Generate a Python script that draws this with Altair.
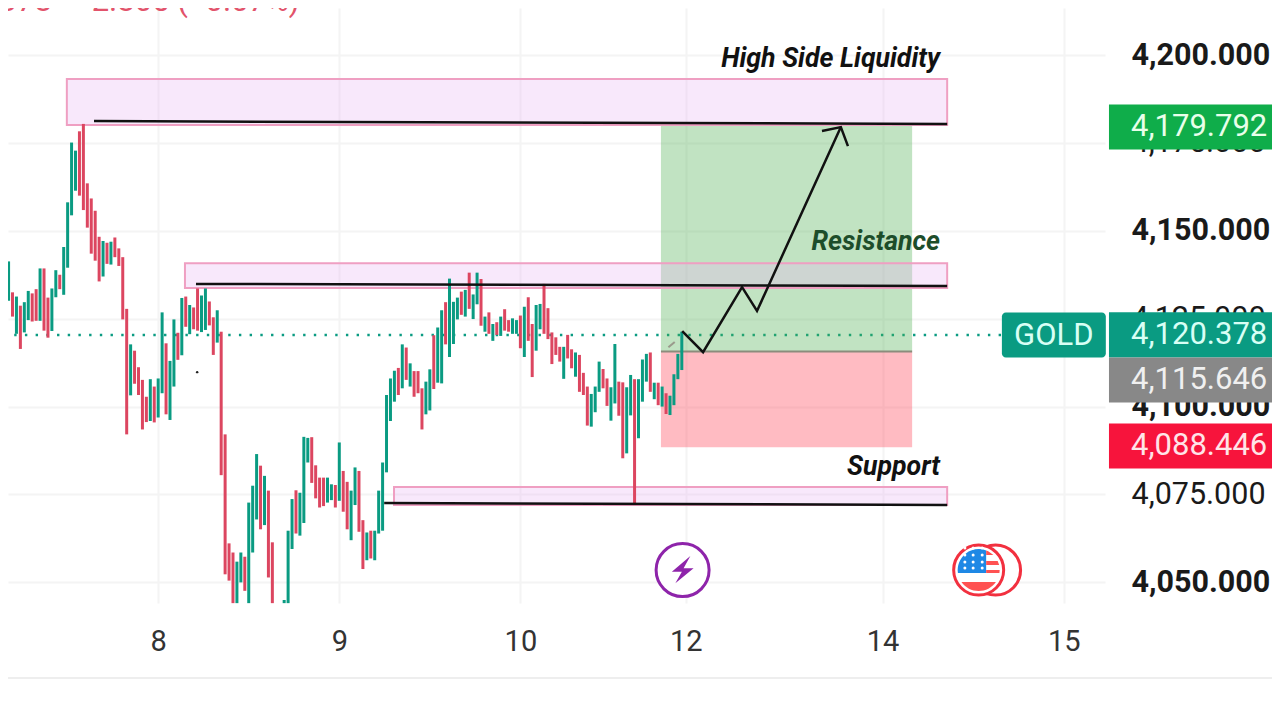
import altair as alt
import pandas as pd

FONT = "Roboto"
RED, TEAL = "#dc4660", "#0a9b82"

candle_top = [4140.1,4135.1,4141.3,4132.5,4131.3,4128.7,4129.7,4132.9,4132.2,4133.4,
4139.3,4139.3,4131.0,4133.6,4138.8,4137.5,4145.4,4158.1,4175.1,4172.8,
4178.3,4180.4,4163.5,4159.2,4155.7,4148.3,4147.1,4146.6,4146.9,4148.1,
4145.0,4142.5,4127.8,4117.7,4115.9,4111.2,4107.6,4102.8,4107.8,4105.7,
4108.0,4126.8,4118.0,4113.0,4124.8,4121.0,4130.9,4131.3,4128.9,4128.2,
4133.6,4131.6,4133.6,4129.9,4125.4,4127.4,4121.3,4092.1,4061.1,4058.5,
4055.9,4058.5,4057.3,4072.7,4077.5,4086.5,4083.2,4080.3,4076.1,4061.4,
None,None,4045.0,4064.7,4073.7,4076.2,4075.5,4091.4,4091.1,4091.3,
4083.3,4079.8,4079.8,4079.8,4077.9,4077.7,4089.8,4081.7,4078.6,4076.1,
4082.7,4081.7,4067.7,4064.2,4064.7,4064.7,4076.1,4084.1,4103.3,4108.0,
4110.2,4111.0,4117.7,4116.8,4112.3,4110.1,4110.1,4105.2,4107.1,4110.6,
4120.3,4122.5,4127.4,4129.7,4136.4,4129.8,4131.0,4132.7,4133.2,4138.1,
4131.9,4138.1,4136.3,4125.6,4126.8,4123.5,4124.0,4125.6,4127.7,4124.6,
4125.1,4124.6,4125.9,4128.4,4131.1,4123.5,4128.9,4129.2,4134.9,4128.0,
4121.1,4119.7,4117.0,4117.0,4120.4,4116.3,4115.4,4114.7,4109.6,4105.7,
4103.6,4105.7,4112.8,4110.7,4108.0,4105.5,4117.8,4107.1,4106.9,4105.5,
4109.0,4107.8,4107.8,4113.4,4115.0,4115.4,4106.8,4106.8,4105.7,4103.8,
4103.1,4109.2,4115.0,4121.3]
candle_bottom = [4128.9,4124.0,4130.1,4125.6,4120.7,4116.4,4121.1,4124.6,4124.2,4124.4,
4124.4,4121.6,4119.6,4121.5,4131.1,4133.4,4131.8,4139.5,4154.4,4161.4,
4160.0,4155.9,4150.9,4143.5,4141.5,4135.6,4137.0,4140.6,4140.4,4142.5,
4140.0,4124.8,4092.1,4103.2,4106.5,4103.3,4093.5,4095.6,4095.9,4095.5,
4096.9,4103.8,4097.8,4096.2,4105.7,4113.3,4114.6,4122.7,4120.6,4122.0,
4121.6,4121.2,4121.8,4123.1,4114.7,4118.2,4080.5,4052.3,4050.5,4044.1,
4044.1,4050.0,4047.6,4044.1,4058.5,4067.9,4065.1,4066.3,4051.4,4044.1,
None,None,4044.1,4044.1,4059.5,4063.9,4063.3,4066.9,4084.1,4078.3,
4073.9,4071.3,4071.7,4072.7,4073.4,4071.3,4073.2,4070.1,4065.1,4062.0,
4072.0,4064.4,4053.8,4056.3,4056.8,4056.3,4063.9,4064.7,4081.3,4095.9,
4101.4,4103.3,4105.2,4107.6,4105.7,4102.8,4103.8,4093.5,4097.8,4098.9,
4105.0,4106.8,4106.6,4117.7,4114.1,4117.8,4124.8,4126.1,4125.6,4127.8,
4124.9,4129.1,4123.0,4121.3,4120.7,4118.7,4120.4,4120.1,4121.6,4121.3,
4120.7,4120.7,4116.6,4114.1,4118.7,4108.4,4115.9,4122.0,4120.7,4119.2,
4112.1,4114.7,4112.8,4107.9,4113.7,4110.9,4108.5,4104.2,4103.3,4094.6,
4094.3,4098.4,4104.2,4105.2,4100.2,4096.0,4100.9,4097.4,4085.3,4086.7,
4097.5,4072.0,4091.0,4101.4,4107.1,4104.2,4102.1,4100.4,4100.0,4097.9,
4097.6,4100.4,4107.8,4110.4]
candle_dir = list(
    "rrtrtrttrr" "trrttrtttt" "rrrrrrtrtr" "rrrtrrrrtr" "ttrttrtrtr" "rttrrtrrrr"
    "ttrtttrtrr" "tttttrtttr" "rrrttrtrrt" "trrtrttttt" "trtrtrrrtt" "rttrtttrtr"
    "ttrtrtrtrr" "ttrtrrttrr" "rrrtrrtrrr" "tttrrttrrt" "trtttrtrtr" "tttt")

x_ticks = [40, 86, 132, 174, 224, 270]
x_tick_labels = ["8", "9", "10", "12", "14", "15"]
y_ticks = [4050, 4075, 4100, 4125, 4150, 4175, 4200]

price_now = 4120.378
take_profit = 4179.792
entry = 4115.646
stop_loss = 4088.446

zone_x = [16.8, 46.8, 99.9]
zone_x2 = [240.4, 240.4, 240.4]
zone_low = [4180.1, 4133.7, 4072.0]
zone_high = [4193.2, 4140.8, 4077.1]

# black level lines and hand-drawn arrow (id, bar position, price)
line_id = ["a","a","b","b","c","c","d","d","d","d","d","e","e","e"]
line_x = [23.7,240.4,49.6,240.4,97.4,240.4,173.1,178.4,188.3,192.1,213.4,208.6,213.4,215.2]
line_p = [4181.2,4180.4,4134.9,4134.3,4072.6,4072.0,4121.5,4115.5,4134.0,4127.2,4179.5,4178.4,4179.5,4174.1]

notes = ["High Side Liquidity", "Resistance", "Support"]
note_price = [4198.8, 4146.7, 4082.7]
note_color = ["#111111", "#1d4d2a", "#111111"]

tag_text = ["4,179.792", "4,120.378", "4,115.646", "4,088.446"]
tag_price = [4179.5, 4120.4, 4107.6, 4088.8]
tag_color = ["#0fad4a", "#0a9b82", "#888888", "#f7143c"]
tag_ink = ["#e8ffea", "#d8fff5", "#f0f0f0", "#ffe4e8"]

bolt = "M.31,-.56L-.43,.07L-.03,.07L-.29,.53L.44,-.07L.04,-.07Z"
flag_blue = "M.3,.12L-.83,.12A.84,.84 0 0 1 .3,-.784Z"
flag_red = ("M.3,-.784A.84,.84 0 0 1 .588,-.6L.3,-.6Z"
            "M.3,-.36L.76,-.36L.82,-.2L.3,-.2Z"
            "M.3,0L.84,0L.83,.12L.3,.12Z"
            "M.69,.48A.84,.84 0 0 1 -.69,.48Z")
star_x = [244.9, 247.0, 249.3]
star_p = [4059.8, 4057.8, 4055.8, 4054.1]

xscale = alt.Scale(domain=[1.854, 280.49], nice=False, zero=False)
yscale = alt.Scale(domain=[4044.14, 4213.37], nice=False, zero=False)


def X(f="x"):
    return alt.X(f"{f}:Q", scale=xscale, title=None)


def Y(f="y"):
    return alt.Y(f"{f}:Q", scale=yscale, title=None)


def frame(**cols):
    return alt.Chart(pd.DataFrame(cols))


label_expr = "[%s][indexof([%s],datum.value)]" % (
    ",".join(f"'{s}'" for s in x_tick_labels), ",".join(str(v) for v in x_ticks))

grid_layer = frame(x=x_ticks, y=[4100] * len(x_ticks)).mark_point(opacity=0).encode(
    x=alt.X("x:Q", scale=xscale, title=None, axis=alt.Axis(
        values=x_ticks, labelExpr=label_expr, grid=True, gridColor="#f4f4f4", gridWidth=2,
        domain=False, ticks=False, labelFont=FONT, labelFontSize=29, labelColor="#333333",
        labelPadding=24, labelBaseline="top", labelFlush=False, labelOverlap=False)),
    y=alt.Y("y:Q", scale=yscale, title=None, axis=alt.Axis(
        orient="right", values=y_ticks, format=",.3f", grid=True, gridColor="#f4f4f4", gridWidth=2,
        domain=False, ticks=False, labelFont=FONT, labelFontSize=30.5, labelColor="#1a1a1a",
        labelFontWeight={"expr": "datum.value % 50 == 0 ? 'bold' : 'normal'"},
        labelPadding=26, labelOverlap=False, labelBound=False)),
)

dotted = frame(x=[-2], x2=[254.3], y=[price_now]).mark_rule(
    color=TEAL, strokeWidth=2.4, strokeDash=[2.4, 8.3]).encode(x=X(), x2="x2:Q", y=Y())

profit = frame(x=[167.7], x2=[231.5], y=[take_profit], y2=[entry]).mark_rect(
    fill="#4caf50", fillOpacity=0.35).encode(x=X(), x2="x2:Q", y=Y(), y2="y2:Q")
loss = frame(x=[167.7], x2=[231.5], y=[entry], y2=[stop_loss]).mark_rect(
    fill="#ff4d5f", fillOpacity=0.38).encode(x=X(), x2="x2:Q", y=Y(), y2="y2:Q")
entry_line = frame(x=[167.7], x2=[231.5], y=[entry]).mark_rule(
    color="#8c8c7c", strokeWidth=2).encode(x=X(), x2="x2:Q", y=Y())
zones = frame(x=zone_x, x2=zone_x2, y=zone_low, y2=zone_high).mark_rect(
    fill="#e9b8f2", fillOpacity=0.33, stroke="#ef9fc2", strokeWidth=2).encode(
    x=X(), x2="x2:Q", y=Y(), y2="y2:Q")

candles = frame(x=list(range(len(candle_top))), y=candle_top, y2=candle_bottom, d=candle_dir).mark_rule(
    strokeWidth=3).encode(
    x=X(), y=Y(), y2="y2:Q",
    color=alt.Color("d:N", scale=alt.Scale(domain=["r", "t"], range=[RED, TEAL]), legend=None))

pencil = frame(x=[169.6], x2=[171.2], y=[4116.9], y2=[4118.4]).mark_rule(
    color="#9a9a8c", strokeWidth=2).encode(x=X(), x2="x2:Q", y=Y(), y2="y2:Q")

lines = frame(id=line_id, x=line_x, y=line_p, o=list(range(len(line_x)))).mark_line(
    color="#111111", strokeWidth=2.5).encode(x=X(), y=Y(), detail="id:N", order="o:Q")

dot = frame(x=[49.9], y=[4109.8]).mark_point(filled=True, color="#222222", size=6, opacity=1).encode(x=X(), y=Y())

note_text = frame(t=notes, x=[238.6] * 3, y=note_price, c=note_color).mark_text(
    font=FONT, fontSize=26.7, fontWeight="bold", fontStyle="italic", align="right", baseline="middle").encode(
    x=X(), y=Y(), text="t:N", color=alt.Color("c:N", scale=None))

head_a = frame(t=["378"], x=[13.0], y=[4212.6]).mark_text(
    font=FONT, fontSize=31, align="right", baseline="alphabetic", color="#e2536b").encode(x=X(), y=Y(), text="t:N")
head_b = frame(t=["\u22122.805 (\u22120.07%)"], x=[18.6], y=[4212.6]).mark_text(
    font=FONT, fontSize=31, align="left", baseline="alphabetic", color="#e2536b").encode(x=X(), y=Y(), text="t:N")

tag_half = 6.4
tag_rects = frame(x=[281.5] * 4, x2=[326] * 4, y=[p - tag_half for p in tag_price],
                  y2=[p + tag_half for p in tag_price], c=tag_color).mark_rect().encode(
    x=X(), x2="x2:Q", y=Y(), y2="y2:Q", color=alt.Color("c:N", scale=None))
gold_rect = frame(x=[254.3], x2=[280.7], y=[price_now - tag_half], y2=[price_now + tag_half]).mark_rect(
    color="#0a9b82", cornerRadius=4).encode(x=X(), x2="x2:Q", y=Y(), y2="y2:Q")
gold_text = frame(t=["GOLD"], x=[267.5], y=[price_now]).mark_text(
    font=FONT, fontSize=31, color="#d8fff5", align="center", baseline="middle", dy=1).encode(
    x=X(), y=Y(), text="t:N")
tag_texts = frame(t=tag_text, x=[287.1] * 4, y=tag_price, c=tag_ink).mark_text(
    font=FONT, fontSize=31, align="left", baseline="middle", dy=0).encode(
    x=X(), y=Y(), text="t:N", color=alt.Color("c:N", scale=None))

ICON_P = 4053.5
ring = frame(x=[173.2], y=[ICON_P]).mark_point(
    shape="circle", size=2809, stroke="#8e24aa", strokeWidth=3, fill="#ffffff", fillOpacity=1, opacity=1).encode(x=X(), y=Y())
bolt_m = frame(x=[173.2], y=[ICON_P]).mark_point(
    shape=bolt, size=2500, filled=True, color="#8e24aa", opacity=1).encode(x=X(), y=Y())
coin = frame(x=[252.7], y=[ICON_P]).mark_point(
    shape="circle", size=2500, stroke="#f2303f", strokeWidth=3, fill="#ffffff", fillOpacity=1, opacity=1).encode(x=X(), y=Y())
coin2 = frame(x=[248.4], y=[ICON_P]).mark_point(
    shape="circle", size=2500, stroke="#f2303f", strokeWidth=3, fill="#ffffff", fillOpacity=1, opacity=1).encode(x=X(), y=Y())
blue = frame(x=[248.4], y=[ICON_P]).mark_point(
    shape=flag_blue, size=2500, filled=True, color="#1e88e5", opacity=1).encode(x=X(), y=Y())
redp = frame(x=[248.4], y=[ICON_P]).mark_point(
    shape=flag_red, size=2500, filled=True, color="#ff5252", opacity=1).encode(x=X(), y=Y())
stars = frame(x=[a for a in star_x for _ in star_p], y=[b for _ in star_x for b in star_p]).mark_point(
    shape="circle", size=9, filled=True, color="#ffffff", opacity=1).encode(x=X(), y=Y())

bottom_rule = frame(a=[0]).mark_rule(color="#eeeeee", strokeWidth=2).encode(
    x=alt.value(0), x2=alt.value(1264), y=alt.value(670))

chart = alt.layer(
    grid_layer, bottom_rule, head_a, head_b, dotted, profit, loss, entry_line, zones, candles, pencil, lines, dot,
    note_text, tag_rects, gold_rect, gold_text, tag_texts, coin, coin2, blue, redp, stars, ring, bolt_m,
).resolve_scale(color="independent").properties(
    width=1097, height=595,
    autosize=alt.AutoSizeParams(type="none"),
    padding={"left": 0, "top": 0, "right": 167, "bottom": 77},
    background="#ffffff",
).configure_view(stroke=None)

chart.save("out.html", embed_options={"renderer": "svg", "actions": False})
